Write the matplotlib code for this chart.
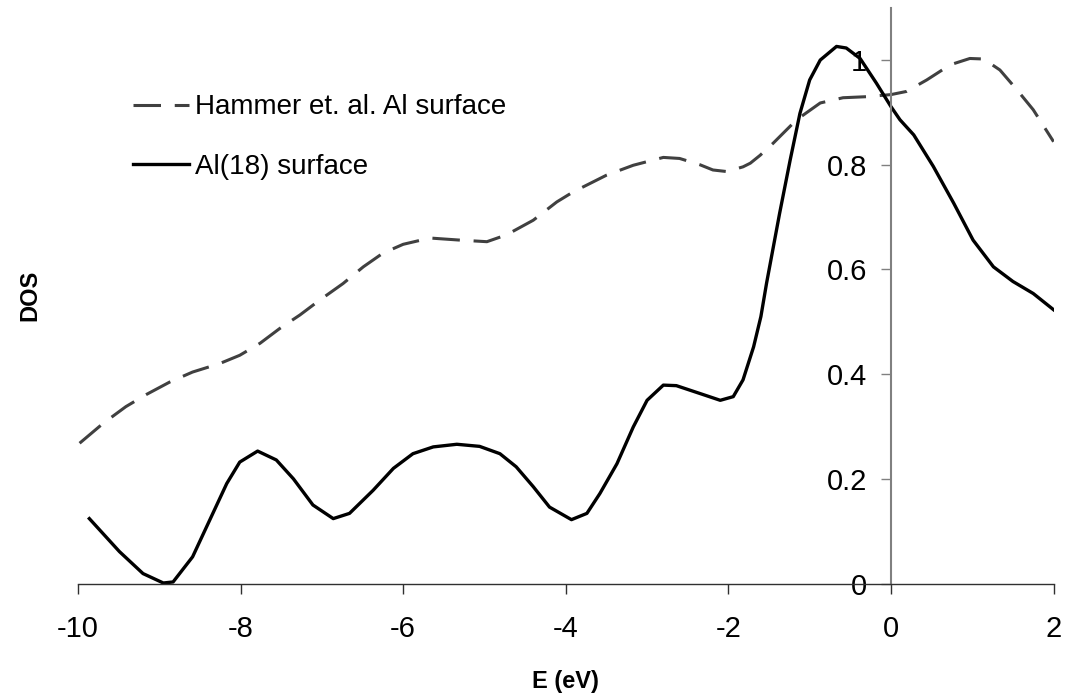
import matplotlib.pyplot as plt

# DOS curves, energy in eV relative to the Fermi level
e_hammer = [-9.98, -9.69, -9.41, -9.16, -8.87, -8.59, -8.26, -8.01, -7.76, -7.52,
            -7.27, -7.03, -6.74, -6.49, -6.25, -6.0, -5.67, -5.30, -4.97, -4.73,
            -4.40, -4.11, -3.91, -3.50, -3.17, -2.80, -2.60, -2.35, -2.19, -2.02,
            -1.82, -1.73, -1.61, -1.45, -1.16, -0.87, -0.59, -0.30, 0.0, 0.19,
            0.44, 0.73, 0.97, 1.14, 1.34, 1.55, 1.75, 2.0]
dos_hammer = [0.268, 0.306, 0.338, 0.361, 0.385, 0.404, 0.420, 0.436, 0.459, 0.487,
              0.513, 0.541, 0.573, 0.605, 0.631, 0.648, 0.660, 0.656, 0.653, 0.666,
              0.694, 0.729, 0.748, 0.780, 0.799, 0.814, 0.812, 0.800, 0.790, 0.787,
              0.796, 0.803, 0.818, 0.841, 0.886, 0.918, 0.928, 0.930, 0.934, 0.940,
              0.962, 0.991, 1.003, 1.002, 0.981, 0.943, 0.905, 0.844]

e_al18 = [-9.86, -9.49, -9.20, -8.95, -8.83, -8.59, -8.38, -8.17, -8.01, -7.79,
          -7.56, -7.35, -7.11, -6.86, -6.66, -6.37, -6.12, -5.88, -5.63, -5.34,
          -5.06, -4.81, -4.61, -4.40, -4.20, -3.93, -3.74, -3.58, -3.37, -3.17,
          -3.00, -2.80, -2.64, -2.35, -2.10, -1.94, -1.82, -1.69, -1.60, -1.53,
          -1.37, -1.24, -1.12, -1.00, -0.87, -0.67, -0.55, -0.38, -0.18, 0.0,
          0.11, 0.28, 0.52, 0.77, 1.01, 1.26, 1.50, 1.75, 2.0]
dos_al18 = [0.124, 0.061, 0.019, 0.001, 0.003, 0.051, 0.121, 0.191, 0.232, 0.253,
            0.236, 0.200, 0.150, 0.124, 0.134, 0.178, 0.220, 0.248, 0.261, 0.266,
            0.262, 0.248, 0.223, 0.185, 0.146, 0.122, 0.134, 0.172, 0.229, 0.299,
            0.350, 0.379, 0.378, 0.363, 0.350, 0.357, 0.389, 0.452, 0.510, 0.574,
            0.707, 0.809, 0.898, 0.962, 1.000, 1.026, 1.023, 1.003, 0.956, 0.911,
            0.886, 0.857, 0.797, 0.727, 0.656, 0.605, 0.577, 0.554, 0.523]

x_ticks = [-10, -8, -6, -4, -2, 0, 2]
y_ticks = [0, 0.2, 0.4, 0.6, 0.8, 1]
y_tick_labels = ['0', '0.2', '0.4', '0.6', '0.8', '1']

plt.rcParams['font.family'] = ['Liberation Sans', 'DejaVu Sans']

fig = plt.figure(figsize=(10.68, 7), dpi=100)
ax = fig.add_axes([0.073, 0.1664, 0.9135, 0.8226])

ax.plot(e_hammer, dos_hammer, color='#404040', lw=2.2, dashes=(9, 4.5),
        solid_joinstyle='round', label='Hammer et. al. Al surface')
ax.plot(e_al18, dos_al18, color='black', lw=2.4, solid_joinstyle='round',
        label='Al(18) surface')

ax.set_xlim(-10, 2)
ax.set_ylim(0, 1.1)

# y axis drawn through E = 0
ax.spines['left'].set_position(('data', 0))
ax.spines['left'].set_color('#808080')
ax.spines['left'].set_linewidth(1.5)
ax.spines['bottom'].set_color('#303030')
ax.spines['bottom'].set_linewidth(1.0)
ax.spines['right'].set_visible(False)
ax.spines['top'].set_visible(False)

ax.set_xticks(x_ticks)
ax.set_xticklabels([str(t) for t in x_ticks])
ax.set_yticks(y_ticks)
ax.set_yticklabels(y_tick_labels)
ax.tick_params(axis='x', direction='out', length=7, width=1, color='#303030',
               labelsize=21, pad=16)
ax.tick_params(axis='y', direction='out', length=7, width=1, color='#808080',
               labelsize=21, pad=10)

ax.set_xlabel('E (eV)', fontsize=17, fontweight='bold')
ax.xaxis.set_label_coords(0.5, -0.150)
ax.set_ylabel('DOS', fontsize=17, fontweight='bold')
ax.yaxis.set_label_coords(-0.037, 0.5)

ax.legend(loc='upper left', bbox_to_anchor=(0.1245, 0.865),
          bbox_transform=fig.transFigure, frameon=False, fontsize=20,
          handlelength=2.0, handletextpad=0.25, labelspacing=1.2,
          borderpad=0, borderaxespad=0)

fig.savefig('out.png', dpi=100)
